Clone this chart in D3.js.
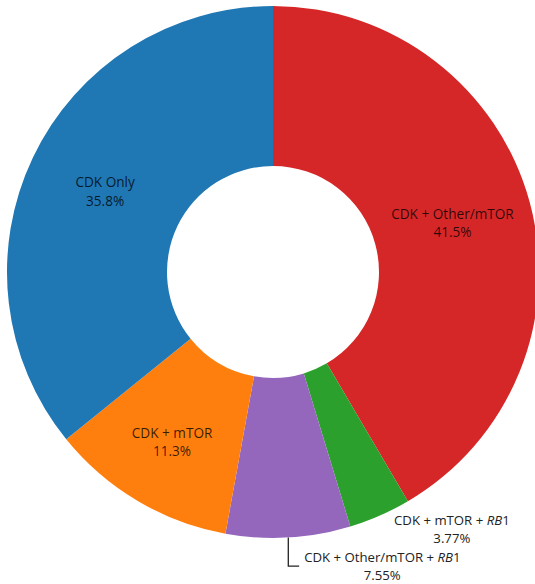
<!DOCTYPE html>
<html>
<head>
<meta charset="utf-8">
<script src="https://cdn.jsdelivr.net/npm/d3@7"></script>
<style>
  html, body { margin: 0; padding: 0; background: #fff; }
  svg { display: block; }
</style>
</head>
<body>
<svg id="chart" width="535" height="584"></svg>
<script>
// Combination therapy groups, clockwise from 12 o'clock
const categories = ["CDK + Other/mTOR", "CDK + mTOR + RB1", "CDK + Other/mTOR + RB1", "CDK + mTOR", "CDK Only"];
const percents = [41.5, 3.77, 7.55, 11.3, 35.8];
const percentLabels = ["41.5%", "3.77%", "7.55%", "11.3%", "35.8%"];
const sliceColors = ["#d62728", "#2ca02c", "#9467bd", "#ff7f0e", "#1f77b4"];

const svg = d3.select("#chart");
const cx = 273, cy = 272;
const outerR = 266, innerR = 106;

const data = categories.map((c, i) => ({ name: c, value: percents[i], label: percentLabels[i], color: sliceColors[i] }));

const pie = d3.pie().sort(null).value(d => d.value).startAngle(0).endAngle(2 * Math.PI);
const arc = d3.arc().innerRadius(innerR).outerRadius(outerR);
const arcs = pie(data);

const g = svg.append("g").attr("transform", `translate(${cx},${cy})`);

g.selectAll("path.slice")
  .data(arcs)
  .join("path")
  .attr("class", "slice")
  .attr("d", arc)
  .attr("fill", d => d.data.color);

// Writes a category name, setting the gene symbol "RB" in italics
function writeName(textSel, name) {
  const parts = name.split("RB");
  parts.forEach((p, i) => {
    if (i > 0) textSel.append("tspan").attr("font-style", "italic").text("RB");
    if (p) textSel.append("tspan").text(p);
  });
}

const font = "'Open Sans', 'Noto Sans', sans-serif";
const fsIn = 13.6, fsOut = 13.2;
const gapIn = 18.5, gapOut = 18;

function midAngle(d) { return (d.startAngle + d.endAngle) / 2; }
function polar(r, a) { return [r * Math.sin(a), -r * Math.cos(a)]; }

// Slices large enough to hold their text get it inside
const insideRadius = { "CDK + mTOR": 198 };
arcs.filter(d => d.data.value > 10).forEach(d => {
  const r = insideRadius[d.data.name] || (innerR + outerR) / 2;
  const [x, y] = polar(r, midAngle(d));
  const t = g.append("text")
    .attr("x", x).attr("y", y - gapIn / 2)
    .attr("dy", "0.35em")
    .attr("text-anchor", "middle")
    .attr("font-family", font).attr("font-size", fsIn)
    .attr("fill", "rgba(0,0,0,0.78)");
  writeName(t, d.data.name);
  g.append("text")
    .attr("x", x).attr("y", y + gapIn / 2)
    .attr("dy", "0.35em")
    .attr("text-anchor", "middle")
    .attr("font-family", font).attr("font-size", fsIn)
    .attr("fill", "rgba(0,0,0,0.78)")
    .text(d.data.label);
});

// Small slices are labelled outside the ring
const outsideOffset = {
  "CDK + mTOR + RB1": { dx: 72, dy: 5, leader: false },
  "CDK + Other/mTOR + RB1": { dx: 94, dy: 19.5, leader: true }
};
arcs.filter(d => d.data.value <= 10).forEach(d => {
  const [ox, oy] = polar(outerR, midAngle(d));
  const off = outsideOffset[d.data.name];
  const lx = ox + off.dx, ly = oy + off.dy;
  const t = g.append("text")
    .attr("x", lx).attr("y", ly)
    .attr("dy", "0.35em")
    .attr("text-anchor", "middle")
    .attr("font-family", font).attr("font-size", fsOut)
    .attr("fill", "#222");
  writeName(t, d.data.name);
  g.append("text")
    .attr("x", lx).attr("y", ly + gapOut)
    .attr("dy", "0.35em")
    .attr("text-anchor", "middle")
    .attr("font-family", font).attr("font-size", fsOut)
    .attr("fill", "#222")
    .text(d.data.label);
  if (off.leader) {
    const w = t.node().getComputedTextLength();
    const yLine = ly + 9;
    g.append("path")
      .attr("d", `M${ox},${oy}V${yLine}H${lx - w / 2 - 5}`)
      .attr("fill", "none")
      .attr("stroke", "#222")
      .attr("stroke-width", 1.3);
  }
});
</script>
</body>
</html>
